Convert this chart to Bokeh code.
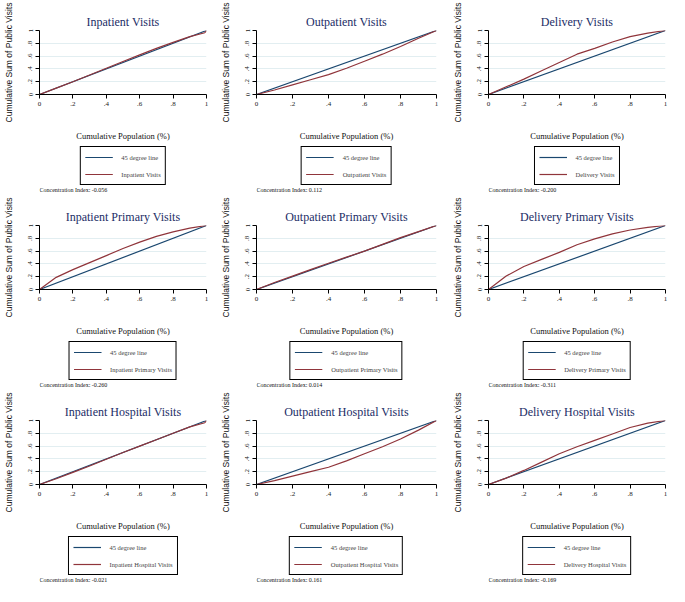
from bokeh.plotting import figure
from bokeh.layouts import row, column
from bokeh.models import Legend, Label, Range1d
from bokeh.embed import file_html
from bokeh.resources import INLINE

# ---------------- data ----------------
titles = ["Inpatient Visits", "Outpatient Visits", "Delivery Visits",
          "Inpatient Primary Visits", "Outpatient Primary Visits", "Delivery Primary Visits",
          "Inpatient Hospital Visits", "Outpatient Hospital Visits", "Delivery Hospital Visits"]
conc_index = ["-0.056", "0.112", "-0.200",
              "-0.260", "0.014", "-0.311",
              "-0.021", "0.161", "-0.169"]

pop = [0, .1, .2, .3, .4, .5, .6, .7, .8, .9, 1]
pop_end = [0, .1, .2, .3, .4, .5, .6, .7, .8, .9, .99, 1]

inpatient = [0, .10, .20, .305, .41, .515, .62, .72, .815, .905, .965, 1]
outpatient = [0, .07, .15, .23, .31, .41, .52, .63, .75, .88, 1]
delivery = [0, .12, .24, .37, .50, .63, .72, .82, .905, .96, 1]
inpatient_primary = [0, .19, .31, .42, .53, .64, .74, .83, .90, .96, 1]
outpatient_primary = [0, .11, .21, .31, .41, .505, .60, .705, .81, .905, 1]
delivery_primary = [0, .21, .36, .47, .58, .70, .79, .87, .93, .97, 1]
inpatient_hospital = [0, .09, .19, .29, .395, .50, .60, .70, .80, .90, .965, 1]
outpatient_hospital = [0, .06, .13, .20, .27, .37, .48, .59, .71, .85, 1]
delivery_hospital = [0, .10, .22, .35, .48, .59, .69, .79, .89, .96, 1]

curves = [(pop_end, inpatient), (pop, outpatient), (pop, delivery),
          (pop, inpatient_primary), (pop, outpatient_primary), (pop, delivery_primary),
          (pop_end, inpatient_hospital), (pop, outpatient_hospital), (pop, delivery_hospital)]

diag = [0, 1]
ticks = [0, 0.2, 0.4, 0.6, 0.8, 1]
tick_labels = ["0", ".2", ".4", ".6", ".8", "1"]

# ---------------- styling ----------------
BLUE = "#1a476f"
RED = "#90353b"
SERIF = "Liberation Serif"
SANS = "Liberation Sans"

col_w = [216, 226, 227]
col_left = [38, 40, 46]
col_right = [10, 6, 4]
TOP = 30
FRAME_H = 64
AXIS_H = 49
PLOT_H = TOP + FRAME_H + AXIS_H   # 143
LEG_H = 195 - PLOT_H              # 52


def make_plot(i):
    c = i % 3
    xs, ys = curves[i]
    p = figure(width=col_w[c], height=PLOT_H, output_backend="svg", toolbar_location=None,
               x_range=Range1d(0, 1), y_range=Range1d(0, 1),
               min_border_left=col_left[c], min_border_right=col_right[c],
               min_border_top=TOP, min_border_bottom=AXIS_H)
    p.title.text = titles[i]
    p.title.align = "center"
    p.title.text_font = SERIF
    p.title.text_font_size = "12px"
    p.title.text_font_style = "normal"
    p.title.text_color = "#1b2d66"
    p.title.standoff = 4

    p.outline_line_color = None
    p.background_fill_color = "white"
    p.border_fill_color = "white"
    p.xgrid.grid_line_color = None
    p.ygrid.grid_line_color = "#e2eef1"
    p.ygrid.grid_line_width = 1

    p.line(diag, diag, line_color=BLUE, line_width=1.2)
    p.line(xs, ys, line_color=RED, line_width=1.2)

    for ax in (p.xaxis[0], p.yaxis[0]):
        ax.ticker = ticks
        ax.major_label_overrides = {t: l for t, l in zip(ticks, tick_labels)}
        ax.minor_tick_line_color = None
        ax.major_tick_in = 0
        ax.major_tick_out = 4
        ax.axis_line_color = "black"
        ax.major_tick_line_color = "black"
        ax.major_label_text_font = SERIF
        ax.major_label_text_font_size = "7px"
        ax.major_label_text_color = "#222222"
        ax.major_label_standoff = 3

    p.yaxis.major_label_orientation = "vertical"
    p.yaxis.axis_label = "Cumulative Sum of Public Visits"
    p.yaxis.axis_label_text_font = SANS
    p.yaxis.axis_label_text_font_size = "8.5px"
    p.yaxis.axis_label_text_font_style = "normal"
    p.yaxis.axis_label_text_color = "#111111"
    p.yaxis.axis_label_standoff = 12

    p.xaxis.axis_label = "Cumulative Population (%)"
    p.xaxis.axis_label_text_font = SERIF
    p.xaxis.axis_label_text_font_size = "8.5px"
    p.xaxis.axis_label_text_font_style = "normal"
    p.xaxis.axis_label_text_color = "#111111"
    p.xaxis.axis_label_standoff = 22
    return p


def make_legend(i):
    """Strip under each plot: boxed legend and the concentration index note."""
    c = i % 3
    xs, ys = curves[i]
    q = figure(width=col_w[c], height=LEG_H, output_backend="svg", toolbar_location=None,
               x_range=Range1d(0, 1), y_range=Range1d(2, 3),
               x_axis_location=None, y_axis_location=None,
               min_border_left=col_left[c], min_border_right=col_right[c],
               min_border_top=0, min_border_bottom=0)
    q.grid.visible = False
    q.outline_line_color = None
    q.background_fill_color = "white"
    q.border_fill_color = "white"
    # same series (outside this strip's visible range) so the legend shows their line styles
    r1 = q.line(diag, diag, line_color=BLUE, line_width=1.2)
    r2 = q.line(xs, ys, line_color=RED, line_width=1.2)
    legend = Legend(items=[("45 degree line", [r1]), (titles[i], [r2])],
                    location="top_center", orientation="vertical",
                    border_line_color="black", border_line_width=1, border_line_alpha=1,
                    background_fill_color="white", background_fill_alpha=1,
                    label_text_font=SERIF, label_text_font_size="6.5px",
                    glyph_width=28, glyph_height=12, label_height=12,
                    label_standoff=9, spacing=5, padding=4, margin=3)
    q.add_layout(legend)
    q.add_layout(Label(x=0, y=LEG_H - 46, x_units="screen", y_units="screen",
                       text="Concentration Index: " + conc_index[i],
                       text_font=SERIF, text_font_size="6px", text_color="#111111",
                       text_baseline="middle", text_align="left"))
    return q


cells = [column(make_plot(i), make_legend(i)) for i in range(9)]
layout = column(row(*cells[0:3]), row(*cells[3:6]), row(*cells[6:9]))

open("out.html", "w").write(file_html(layout, INLINE))
